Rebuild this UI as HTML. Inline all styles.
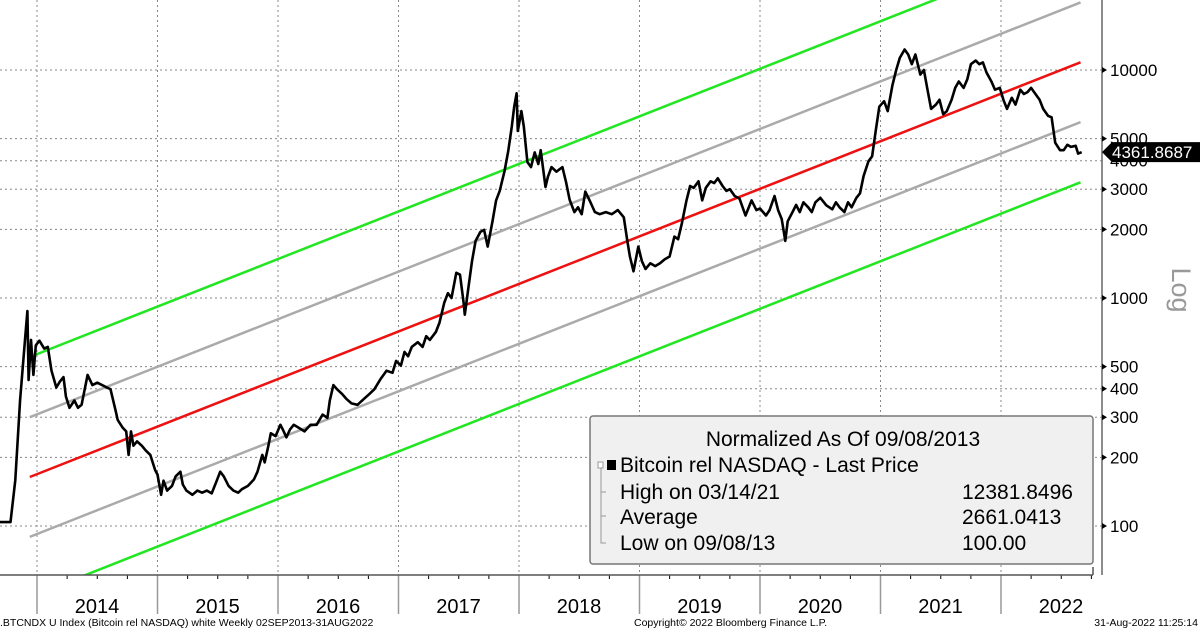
<!DOCTYPE html>
<html><head><meta charset="utf-8"><style>
html,body{margin:0;padding:0;background:#fff;}
svg text{font-family:"Liberation Sans",sans-serif;}
</style></head><body>
<svg id="chart" width="1200" height="632" viewBox="0 0 1200 632" xmlns="http://www.w3.org/2000/svg">
<defs><clipPath id="plotclip"><rect x="0" y="0" width="1102" height="575"/></clipPath></defs>
<g id="grid"></g>
<g id="bands" clip-path="url(#plotclip)"></g>
<g id="series"></g>
<g id="axes"></g>
<g>
  <rect x="590" y="416" width="503" height="148" rx="3" fill="#f0f0f0" stroke="#777" stroke-width="1.5"/>
  <text x="843" y="446" font-size="21" text-anchor="middle" fill="#000">Normalized As Of 09/08/2013</text>
  <path d="M601,466 V543 H606 M601,492 H606 M601,516 H606" stroke="#999" fill="none"/>
  <rect x="598" y="462" width="5" height="6" fill="#fff" stroke="#999"/>
  <rect x="607" y="460" width="9" height="10" fill="#000"/>
  <text x="620" y="472" font-size="21" fill="#000">Bitcoin rel NASDAQ - Last Price</text>
  <text x="620" y="499" font-size="21" fill="#000">High on 03/14/21</text>
  <text x="962" y="499" font-size="21" fill="#000">12381.8496</text>
  <text x="620" y="524" font-size="21" fill="#000">Average</text>
  <text x="962" y="524" font-size="21" fill="#000">2661.0413</text>
  <text x="620" y="550" font-size="21" fill="#000">Low on 09/08/13</text>
  <text x="962" y="550" font-size="21" fill="#000">100.00</text>
</g>
<text x="0" y="626" font-size="10.5" fill="#000">.BTCNDX U Index (Bitcoin rel NASDAQ) white  Weekly 02SEP2013-31AUG2022</text>
<text x="634" y="626" font-size="10.5" fill="#000">Copyright© 2022 Bloomberg Finance L.P.</text>
<text x="1198" y="626" font-size="10.5" fill="#000" text-anchor="end">31-Aug-2022 11:25:14</text>
<text transform="translate(1172,290) rotate(90)" font-size="27" fill="#999" text-anchor="middle">Log</text>
</svg>
<script>
const dates=[2013.69,2013.78,2013.82,2013.86,2013.90,2013.92,2013.93,2013.95,2013.97,2013.99,2014.02,2014.06,2014.09,2014.12,2014.16,2014.19,2014.22,2014.24,2014.27,2014.31,2014.34,2014.37,2014.42,2014.46,2014.50,2014.54,2014.58,2014.61,2014.65,2014.67,2014.71,2014.74,2014.76,2014.78,2014.80,2014.83,2014.87,2014.90,2014.94,2014.98,2015.00,2015.03,2015.05,2015.08,2015.12,2015.15,2015.19,2015.21,2015.24,2015.29,2015.33,2015.37,2015.41,2015.45,2015.49,2015.52,2015.55,2015.59,2015.63,2015.67,2015.70,2015.75,2015.80,2015.83,2015.87,2015.89,2015.92,2015.94,2015.98,2016.02,2016.04,2016.07,2016.10,2016.13,2016.17,2016.22,2016.27,2016.32,2016.37,2016.41,2016.43,2016.46,2016.49,2016.53,2016.57,2016.61,2016.66,2016.71,2016.76,2016.80,2016.85,2016.90,2016.95,2016.98,2017.02,2017.05,2017.08,2017.11,2017.16,2017.20,2017.23,2017.26,2017.31,2017.34,2017.38,2017.41,2017.44,2017.48,2017.51,2017.54,2017.55,2017.58,2017.61,2017.64,2017.68,2017.71,2017.74,2017.78,2017.81,2017.84,2017.88,2017.91,2017.94,2017.96,2017.98,2017.99,2018.02,2018.04,2018.07,2018.10,2018.13,2018.16,2018.18,2018.22,2018.24,2018.27,2018.31,2018.36,2018.39,2018.42,2018.46,2018.49,2018.52,2018.55,2018.59,2018.63,2018.67,2018.72,2018.77,2018.82,2018.87,2018.90,2018.92,2018.95,2018.99,2019.02,2019.05,2019.09,2019.13,2019.17,2019.21,2019.25,2019.29,2019.32,2019.35,2019.39,2019.42,2019.45,2019.49,2019.52,2019.55,2019.59,2019.62,2019.65,2019.69,2019.72,2019.75,2019.79,2019.83,2019.88,2019.93,2019.97,2020.00,2020.05,2020.08,2020.12,2020.15,2020.18,2020.21,2020.23,2020.27,2020.30,2020.33,2020.36,2020.40,2020.43,2020.46,2020.50,2020.55,2020.60,2020.63,2020.66,2020.70,2020.73,2020.76,2020.80,2020.83,2020.86,2020.90,2020.93,2020.96,2020.99,2021.03,2021.06,2021.10,2021.13,2021.16,2021.20,2021.23,2021.26,2021.29,2021.33,2021.36,2021.39,2021.42,2021.46,2021.49,2021.52,2021.55,2021.59,2021.62,2021.65,2021.69,2021.72,2021.75,2021.79,2021.82,2021.85,2021.88,2021.92,2021.95,2021.99,2022.02,2022.05,2022.09,2022.12,2022.16,2022.19,2022.22,2022.25,2022.29,2022.32,2022.35,2022.39,2022.42,2022.45,2022.49,2022.52,2022.55,2022.58,2022.62,2022.64,2022.67];
const prices=[104,104,159,357,655,877,437,655,460,620,650,600,610,480,405,430,450,370,330,355,330,340,460,415,425,415,405,398,325,292,270,260,205,260,225,235,225,215,205,176,168,137,158,143,150,165,173,152,143,137,143,140,143,139,157,173,165,150,143,140,145,150,160,173,205,190,225,255,248,278,265,245,265,278,270,260,278,278,308,298,355,415,398,380,360,345,340,360,380,398,440,480,470,530,505,580,555,610,640,610,680,655,710,780,955,1050,1000,1290,1265,955,845,1110,1450,1780,1950,1990,1680,2170,2680,2950,3600,4400,5650,6900,7900,5400,6600,5650,3950,3750,4350,3870,4450,3070,3400,3750,3580,3750,3230,2700,2380,2500,2330,2930,2650,2380,2330,2380,2330,2430,2260,1760,1520,1310,1680,1450,1340,1420,1380,1420,1480,1520,1860,1810,2110,2680,3100,3040,3250,2680,3040,3250,3190,3350,3100,2950,3000,2800,2730,2300,2680,2430,2470,2300,2430,2800,2430,2220,1780,2170,2380,2560,2380,2630,2500,2380,2630,2750,2550,2450,2630,2500,2380,2630,2500,2750,2880,3430,3980,4180,5400,6900,7300,6600,8600,10000,11300,12300,11700,10600,11700,9550,10000,8200,6750,7050,7400,6400,6600,7400,8350,8900,8350,9100,10600,11000,10600,10800,9750,8900,8200,8350,7400,6750,7550,7050,8200,7850,8000,8350,7800,7400,6750,6300,6200,4800,4450,4450,4700,4600,4650,4300,4362];
const yTicks=[100,200,300,400,500,1000,2000,3000,5000,10000];
const yTickLabels=["100","200","300","400","500","1000","2000","3000","5000","10000"];
const yGridValues=[100,200,300,400,500,1000,2000,3000,4000,5000,10000];
const years=[2014,2015,2016,2017,2018,2019,2020,2021,2022];
const bandDates=[2013.94,2022.66];
const trendValues=[164,10810];
const bandMultipliers=[1/3.36,1/1.83,1,1.83,3.36];
const bandColors=["#22e622","#aaaaaa","#ee1111","#aaaaaa","#22e622"];
const lastPrice="4361.8687";

const NS="http://www.w3.org/2000/svg";
const X0=37, PXY=120.5, PLOT_BOTTOM=575, AXIS_X=1102;
function xScale(t){return X0+(t-2014)*PXY;}
function yScale(v){return 526-(Math.log10(v)-2)*228;}
function mk(tag,attrs,parent){const e=document.createElementNS(NS,tag);for(const k in attrs)e.setAttribute(k,attrs[k]);parent.appendChild(e);return e;}

const grid=document.getElementById('grid');
const axes=document.getElementById('axes');
yGridValues.forEach(v=>{
  const l=mk('line',{x1:0,x2:AXIS_X,y1:yScale(v),y2:yScale(v),stroke:'#888','stroke-width':1,'stroke-dasharray':'2,3'},grid);
  
  
});
years.forEach(y=>{
  const x=xScale(y);
  const l=mk('line',{x1:x,x2:x,y1:0,y2:PLOT_BOTTOM,stroke:'#888','stroke-width':1,'stroke-dasharray':'2,3'},grid);
  
  
  const d=mk('line',{x1:x,x2:x,y1:PLOT_BOTTOM,y2:614,stroke:'#999','stroke-width':1.5},axes);
  
  
  const t=mk('text',{x:x+60,y:613,'font-size':20,'text-anchor':'middle',fill:'#000'},axes);
  t.textContent=y;
  
  
  for(let q=1;q<4;q++){
    const xm=xScale(y+q/4);
    if(xm<1093) mk('line',{x1:xm,x2:xm,y1:PLOT_BOTTOM,y2:PLOT_BOTTOM+4,stroke:'#000'},axes);
  }
});
const xl=mk('line',{x1:0,x2:1093,y1:PLOT_BOTTOM,y2:PLOT_BOTTOM,stroke:'#555','stroke-width':1.5},axes);


mk('line',{x1:1093,x2:1093,y1:PLOT_BOTTOM-8,y2:PLOT_BOTTOM,stroke:'#555','stroke-width':1.5},axes);
const yl=mk('line',{x1:AXIS_X,x2:AXIS_X,y1:0,y2:PLOT_BOTTOM,stroke:'#666','stroke-width':1.5},axes);


yTicks.forEach((v,i)=>{
  const y=yScale(v);
  mk('path',{d:`M${AXIS_X},${y-3} L${AXIS_X+5},${y} L${AXIS_X},${y+3}Z`,fill:'#000'},axes);
  const t=mk('text',{x:1110,y:y+6,'font-size':17,fill:'#000'},axes);
  t.textContent=yTickLabels[i];
  
  
});
const t4=mk('text',{x:1110,y:yScale(4000)+6,'font-size':17,fill:'#000'},axes);
t4.textContent="4000";



const bands=document.getElementById('bands');
bandMultipliers.forEach((m,i)=>{
  const l=mk('line',{x1:xScale(bandDates[0]),y1:yScale(trendValues[0]*m),x2:xScale(bandDates[1]),y2:yScale(trendValues[1]*m),stroke:bandColors[i],'stroke-width':2.5},bands);
  
  
});

const series=document.getElementById('series');
const pts=dates.map((d,i)=>xScale(d).toFixed(1)+','+yScale(prices[i]).toFixed(1)).join(' ');
const pl=mk('polyline',{points:pts,fill:'none',stroke:'#000','stroke-width':2.6,'stroke-linejoin':'round'},series);



const ly=yScale(prices[prices.length-1]);
const tag=mk('path',{d:`M${AXIS_X},${ly} L${AXIS_X+10},${ly-10} H1200 V${ly+10} H${AXIS_X+10}Z`,fill:'#000'},axes);


const tt=mk('text',{x:1112,y:ly+6,'font-size':17,fill:'#fff'},axes);
tt.textContent=lastPrice;


</script>
</body></html>
